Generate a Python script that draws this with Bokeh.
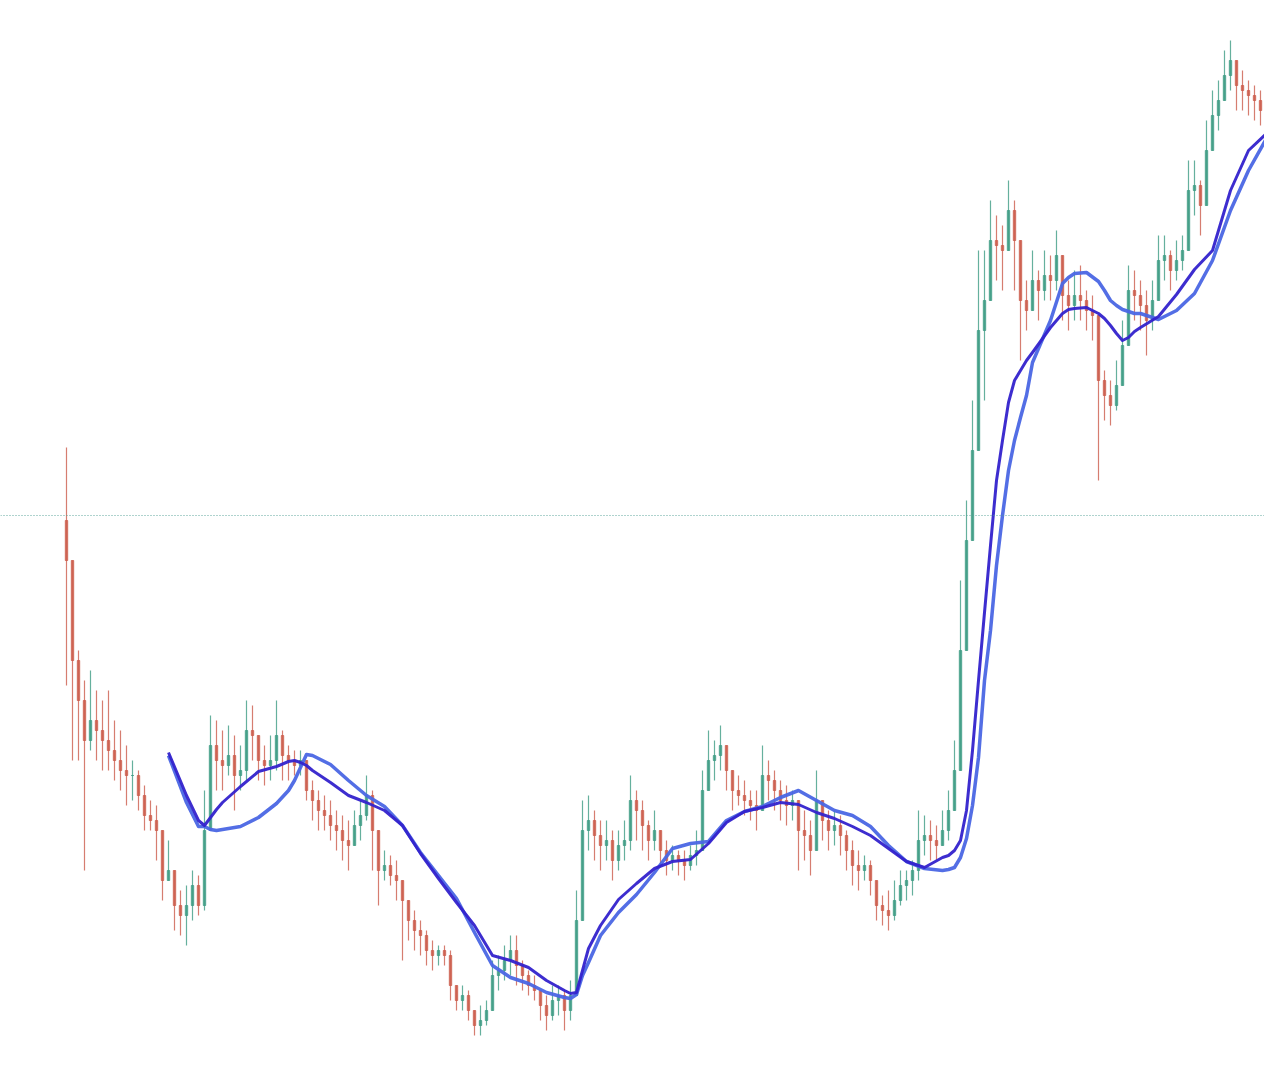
from bokeh.plotting import figure
from bokeh.models import Range1d, Span, ColumnDataSource
from bokeh.embed import file_html
from bokeh.resources import INLINE

# ---- candle data (bar index 0..202, price units) ----
first_open = 556
high = [629,496,426,396,406,386,376,386,356,346,
        331,316,306,291,276,271,246,236,196,186,
        191,206,201,286,361,356,346,351,341,331,
        376,371,336,331,341,376,346,331,326,326,
        316,296,286,281,276,266,261,256,266,276,
        301,286,226,226,221,216,196,171,166,156,
        146,136,131,131,126,91,91,86,66,71,
        76,116,121,131,141,141,116,106,101,86,
        81,91,91,86,96,186,276,281,266,256,
        256,246,246,256,301,286,276,256,266,246,
        236,231,226,226,231,246,306,346,336,351,
        331,306,301,296,286,286,331,316,306,296,
        291,286,276,266,256,306,276,266,266,261,
        246,236,226,221,216,196,181,186,196,206,
        206,216,266,261,256,251,266,286,336,496,
        576,676,826,826,876,861,851,896,876,816,
        796,826,806,826,821,846,816,796,806,811,
        786,781,746,706,696,716,756,811,806,796,
        786,796,841,841,826,836,841,916,916,896,
        956,986,996,1026,1036,1016,1006,996,991,986,
        981,976,966]
low = [391,316,316,206,326,316,306,306,296,286,
       271,276,266,246,246,216,176,196,146,141,
       131,156,161,166,276,286,286,301,266,286,
       296,316,296,291,296,306,296,296,301,301,
       276,256,246,246,236,226,216,206,231,236,
       256,206,171,196,191,176,116,136,126,121,
       111,106,111,111,76,66,66,56,41,41,
       51,76,86,96,101,91,86,81,76,56,
       46,56,61,46,56,86,176,226,216,206,
       216,196,206,216,226,236,226,216,226,211,
       201,206,201,196,206,211,236,286,296,306,
       286,266,271,261,256,246,266,276,266,256,
       251,256,206,216,201,246,236,226,231,221,
       206,191,186,196,181,156,151,146,156,171,
       176,181,196,221,216,216,231,236,266,316,
       456,556,646,676,786,796,786,826,786,716,
       746,766,756,776,776,786,756,746,756,756,
       746,736,596,656,651,666,696,756,756,746,
       721,746,786,796,786,796,806,826,861,841,
       876,926,946,976,986,966,966,961,956,951,
       911,921,926]
close = [516,416,376,336,356,346,336,326,316,306,
         301,301,281,261,256,246,196,206,171,161,
         171,191,171,246,331,316,311,321,301,306,
         346,341,316,311,316,341,321,316,311,316,
         286,276,266,261,251,246,236,231,251,261,
         281,246,206,211,201,196,176,156,146,141,
         126,121,126,121,91,76,81,66,51,56,
         66,101,106,116,126,111,101,91,86,71,
         61,76,81,66,81,156,246,256,241,231,
         236,216,231,236,276,266,251,236,246,226,
         216,221,216,211,221,226,286,316,321,331,
         306,286,281,276,271,266,301,296,286,276,
         271,276,246,241,226,276,256,246,251,241,
         226,211,206,211,196,171,166,161,176,191,
         196,206,236,241,236,231,246,266,306,426,
         536,626,746,776,836,831,826,866,836,776,
         766,796,786,801,796,821,781,771,781,776,
         766,761,696,681,671,691,731,786,781,771,
         756,776,816,821,806,816,826,886,891,871,
         926,961,976,1001,1016,991,986,981,976,966,
         946,946,951]

# ---- moving averages (bar index, fast, slow) ----
ma_idx = [17,20,22,23,24,25,26,29,32,35,37,38,39,40,41,44,47,50,53,56,
          59,62,65,68,71,74,77,80,83,84,85,86,87,89,92,95,98,101,104,107,
          110,113,116,119,122,125,128,131,134,137,140,143,146,147,148,149,150,151,152,153,
          154,155,156,157,158,159,160,161,164,166,167,168,170,172,173,174,175,176,177,178,
          179,182,185,188,191,194,197,200,202]
ma_fast = [324,281,256,251,259,267,274,290,305,310,315,316,314,311,306,294,281,274,266,251,
           223,198,174,151,121,116,109,96,86,83,84,106,128,151,177,193,208,215,217,233,
           254,265,269,274,272,264,258,250,241,228,215,209,219,221,226,236,266,326,396,464,
           531,596,636,674,696,706,716,724,749,763,767,768,769,763,758,751,743,736,739,745,
           749,760,782,807,826,886,926,943,946]
ma_slow = [321,274,250,250,247,246,247,250,259,273,286,296,309,322,321,312,296,281,270,251,
           224,201,178,144,111,99,93,84,79,78,82,101,114,141,164,182,204,228,233,235,
           256,265,270,279,286,276,266,261,250,231,215,208,206,207,209,219,238,271,319,396,
           446,511,561,606,636,659,681,714,756,793,799,803,804,795,786,776,771,767,765,763,
           763,757,766,783,816,866,906,938,944]

level_price = 561

# ---- build candle table ----
opens = [first_open] + close[:-1]
idx = list(range(len(close)))
up_c, dn_c = "#3f9c84", "#cc5c4c"
cols, tops, bots, his, los = [], [], [], [], []
for o, h, l, c in zip(opens, high, low, close):
    cols.append(up_c if c >= o else dn_c)
    tops.append(max(o, c))
    bots.append(min(o, c))
    his.append(max(h, o, c))
    los.append(min(l, o, c))
src = ColumnDataSource(dict(x=idx, top=tops, bottom=bots, hi=his, lo=los, color=cols))

p = figure(width=1264, height=1060, x_range=Range1d(-11, 199.667),
           y_range=Range1d(16, 1076), toolbar_location=None,
           output_backend="svg", min_border=0)
p.axis.visible = False
p.xgrid.visible = False
p.ygrid.visible = False
p.outline_line_color = None
p.background_fill_color = "white"
p.border_fill_color = "white"

p.add_layout(Span(location=level_price, dimension="width", line_color="#4f9e94",
                  line_dash="1 2", line_width=1, line_alpha=0.9))

p.segment(x0="x", y0="lo", x1="x", y1="hi", color="color", line_width=1.2,
          alpha=0.8, source=src)
p.vbar(x="x", top="top", bottom="bottom", width=0.4, fill_color="color",
       line_color="color", alpha=0.8, source=src)

p.line(ma_idx, ma_slow, line_color="#4a66e4", line_width=3.5, line_alpha=0.95,
       line_join="round")
p.line(ma_idx, ma_fast, line_color="#3322cc", line_width=3, line_alpha=0.95,
       line_join="round")

open("out.html", "w").write(file_html(p, INLINE))
